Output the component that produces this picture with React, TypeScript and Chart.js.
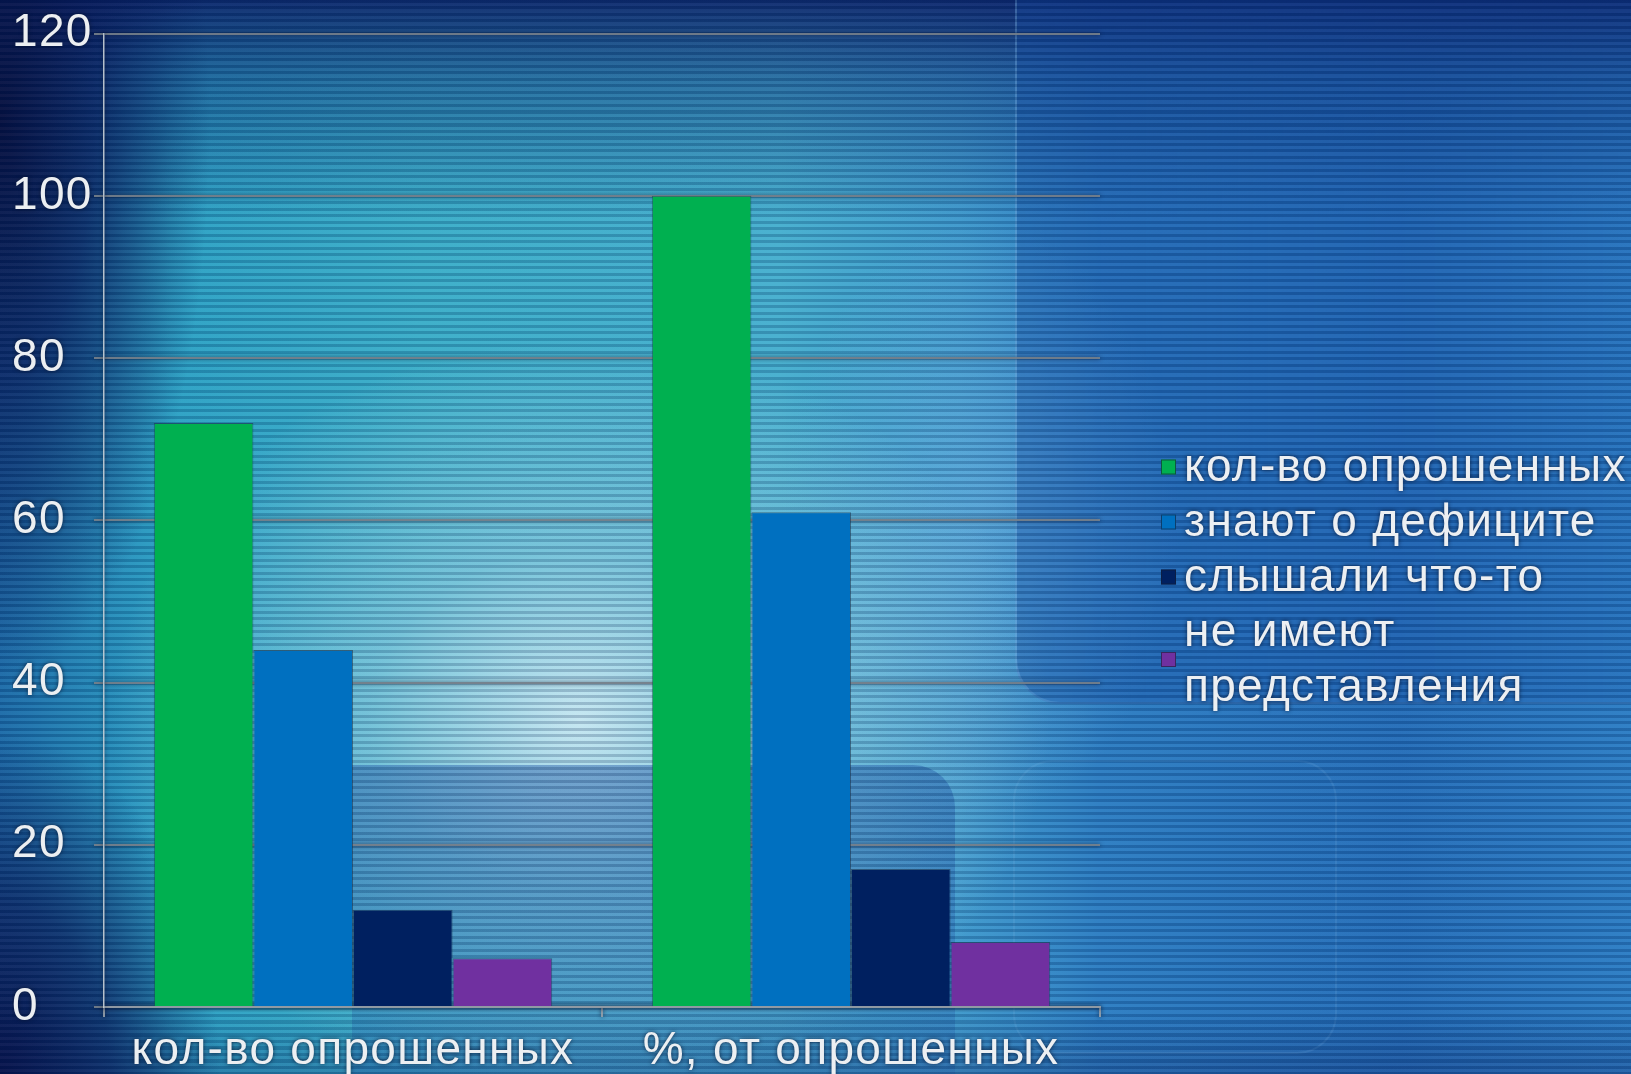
import React, { useEffect, useRef } from 'react';
import { Chart, registerables } from 'chart.js';

Chart.register(...registerables);

// ---- data ----
const categories = ['кол-во опрошенных', '%, от опрошенных'];
const seriesLabels = ['кол-во опрошенных', 'знают о дефиците', 'слышали что-то', 'не имеют представления'];
const surveyedValues = [72, 100];
const awareValues = [44, 61];
const heardValues = [12, 17];
const noIdeaValues = [6, 8];
const seriesColors = ['#00b050', '#0070c0', '#002060', '#7030a0'];
const yMin = 0;
const yMax = 120;
const yStep = 20;

const FONT = "'Liberation Sans', Arial, sans-serif";
const FONT_SIZE = 46;
const TEXT_COLOR = '#eceff2';

const shadowPlugin = {
  id: 'textShadow',
  beforeDraw(chart: any) {
    const c = chart.ctx;
    c.save();
    c.shadowColor = 'rgba(10,20,45,0.8)';
    c.shadowBlur = 4;
    try { (c as any).letterSpacing = '1.3px'; } catch (e) {}
  },
  beforeDatasetsDraw(chart: any) {
    chart.ctx.restore();
  },
};

const legendPlugin = {
  id: 'customLegend',
  afterDraw(chart: any) {
    const c = chart.ctx;
    const lineH = 55;
    const boxSize = 15;
    const boxX = 1161;
    const textX = 1184;
    const maxW = chart.width - textX - 2;
    c.save();
    c.font = `${FONT_SIZE}px ${FONT}`;
    try { (c as any).letterSpacing = '1.3px'; } catch (e) {}
    const items = chart.data.datasets.map((ds: any) => {
      const words = String(ds.label).split(' ');
      const lines: string[] = [];
      let cur = '';
      for (const w of words) {
        const t = cur ? cur + ' ' + w : w;
        if (c.measureText(t).width > maxW && cur) {
          lines.push(cur);
          cur = w;
        } else cur = t;
      }
      if (cur) lines.push(cur);
      return { lines, color: ds.backgroundColor };
    });
    const total = items.reduce((s: number, it: any) => s + it.lines.length, 0) * lineH;
    let y = 577 - total / 2;
    c.textBaseline = 'middle';
    c.textAlign = 'left';
    for (const it of items) {
      const h = it.lines.length * lineH;
      const cy = y + h / 2;
      c.shadowColor = 'rgba(0,0,0,0)';
      c.fillStyle = it.color;
      c.fillRect(boxX, cy - boxSize / 2, boxSize, boxSize);
      c.strokeStyle = 'rgba(20,30,50,0.6)';
      c.lineWidth = 1;
      c.strokeRect(boxX + 0.5, cy - boxSize / 2 + 0.5, boxSize - 1, boxSize - 1);
      c.shadowColor = 'rgba(10,20,45,0.8)';
      c.shadowBlur = 4;
      c.fillStyle = TEXT_COLOR;
      it.lines.forEach((ln: string, i: number) => {
        c.fillText(ln, textX, y + lineH * i + lineH / 2 + 1);
      });
      y += h;
    }
    c.restore();
  },
};

export default function App() {
  const canvasRef = useRef<HTMLCanvasElement | null>(null);

  useEffect(() => {
    if (!canvasRef.current) return;
    const seriesData = [surveyedValues, awareValues, heardValues, noIdeaValues];
    const chart = new Chart(canvasRef.current, {
      type: 'bar',
      data: {
        labels: categories,
        datasets: seriesLabels.map((label, i) => ({
          label,
          data: seriesData[i],
          backgroundColor: seriesColors[i],
          borderColor: 'rgba(25,45,70,0.55)',
          borderWidth: 1,
          categoryPercentage: 0.8,
          barPercentage: 1.0,
        })),
      },
      options: {
        animation: false,
        responsive: true,
        maintainAspectRatio: false,
        layout: { padding: { left: 12, top: 30, right: 531, bottom: 0 } },
        plugins: {
          legend: { display: false },
          tooltip: { enabled: false },
        },
        scales: {
          x: {
            offset: true,
            grid: {
              offset: true,
              drawOnChartArea: false,
              drawTicks: true,
              tickLength: 10,
              color: 'rgba(150,160,170,0.9)',
              lineWidth: 2,
            },
            border: { color: 'rgba(150,160,170,0.9)', width: 2 },
            ticks: {
              color: TEXT_COLOR,
              font: { family: FONT, size: FONT_SIZE },
              padding: 7,
              maxRotation: 0,
              autoSkip: false,
            },
            afterFit(scale: any) {
              scale.height = 67;
            },
          },
          y: {
            min: yMin,
            max: yMax,
            ticks: {
              stepSize: yStep,
              color: TEXT_COLOR,
              font: { family: FONT, size: FONT_SIZE },
              padding: 6,
              crossAlign: 'far',
            },
            grid: {
              color: 'rgba(120,130,140,0.9)',
              lineWidth: 2,
              tickLength: 10,
              drawTicks: true,
            },
            border: { color: 'rgba(200,208,215,0.9)', width: 1.5 },
            afterFit(scale: any) {
              scale.width = 92;
            },
          },
        },
      },
      plugins: [shadowPlugin, legendPlugin],
    });
    return () => chart.destroy();
  }, []);

  const bg = [
    'radial-gradient(ellipse 470px 380px at 580px 720px, rgba(215,238,246,0.88) 0%, rgba(170,215,232,0.5) 45%, rgba(150,200,225,0) 100%)',
    'radial-gradient(ellipse 200px 300px at 980px 520px, rgba(120,185,230,0.45) 0%, rgba(120,185,230,0) 100%)',
    'radial-gradient(ellipse 210px 560px at 0px 120px, rgba(4,14,62,1) 0%, rgba(5,22,85,0.75) 45%, rgba(5,22,85,0) 100%)',
    'radial-gradient(ellipse 220px 340px at 0px 1074px, rgba(6,18,75,1) 0%, rgba(6,22,85,0.7) 50%, rgba(6,22,85,0) 100%)',
    'linear-gradient(to bottom, rgba(8,28,100,0.9) 0px, rgba(12,50,120,0.5) 80px, rgba(10,60,130,0) 220px)',
    'linear-gradient(to top, rgba(12,35,105,0.3) 0px, rgba(12,35,105,0) 60px)',
    'linear-gradient(to right, #1a6aa8 0px, #2aa0c4 170px, #38adc8 420px, #44aece 780px, #3c98cc 960px, #2a7cc2 1100px, #226cb8 1400px, #2a7cc4 1631px)',
  ].join(', ');

  return (
    <div style={{ position: 'fixed', inset: 0, overflow: 'hidden', background: bg }}>
      <div
        style={{
          position: 'absolute',
          left: 1015,
          top: -10,
          width: 700,
          height: 712,
          borderBottomLeftRadius: 45,
          background: 'linear-gradient(to right, rgba(16,72,160,0.38), rgba(20,82,170,0.2))',
          borderLeft: '2px solid rgba(140,195,240,0.3)',
          borderBottom: '2px solid rgba(140,195,240,0.2)',
        }}
      />
      <div
        style={{
          position: 'absolute',
          left: 352,
          top: 765,
          width: 603,
          height: 330,
          borderTopRightRadius: 42,
          background: 'linear-gradient(to bottom, rgba(30,85,165,0.45), rgba(30,85,165,0.25))',
        }}
      />
      <div
        style={{
          position: 'absolute',
          left: 1013,
          top: 760,
          width: 320,
          height: 290,
          borderRadius: 40,
          border: '2px solid rgba(150,200,240,0.12)',
        }}
      />
      <div
        style={{
          position: 'absolute',
          inset: 0,
          background:
            'repeating-linear-gradient(to bottom, rgba(0,25,70,0.2) 0px, rgba(0,25,70,0.2) 3px, rgba(255,255,255,0.04) 3px, rgba(255,255,255,0.04) 6.5px)',
        }}
      />
      <div style={{ position: 'absolute', inset: 0 }}>
        <canvas ref={canvasRef} />
      </div>
    </div>
  );
}
